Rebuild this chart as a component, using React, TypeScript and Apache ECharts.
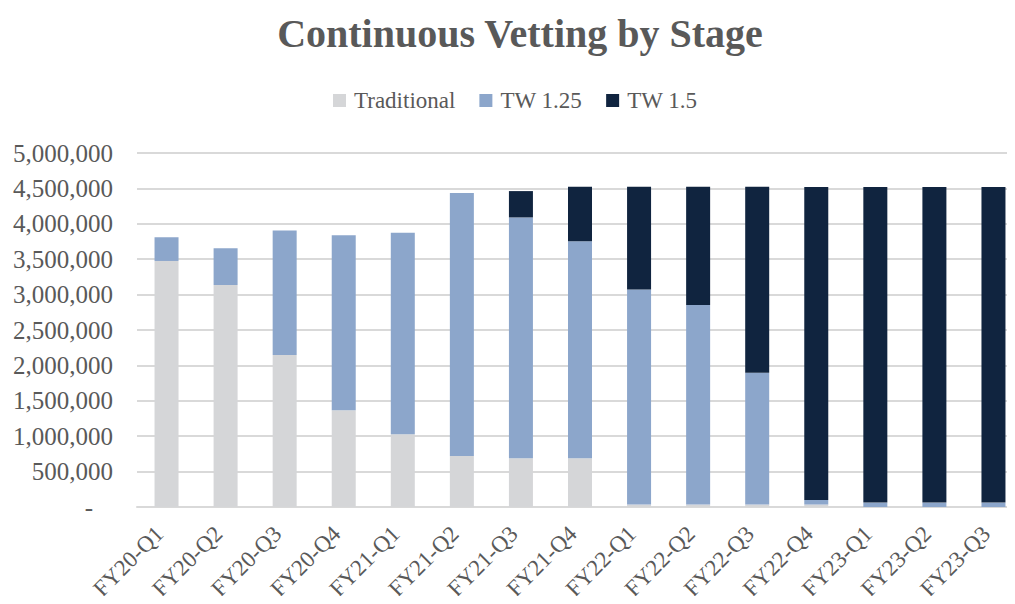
import React, { useEffect, useRef } from "react";
import * as echarts from "echarts";

const categories = [
  "FY20-Q1", "FY20-Q2", "FY20-Q3", "FY20-Q4",
  "FY21-Q1", "FY21-Q2", "FY21-Q3", "FY21-Q4",
  "FY22-Q1", "FY22-Q2", "FY22-Q3", "FY22-Q4",
  "FY23-Q1", "FY23-Q2", "FY23-Q3",
];
const traditional = [3475000, 3137000, 2146000, 1368000, 1028000, 722000, 689000, 689000, 35000, 35000, 35000, 35000, 0, 0, 0];
const tw125 = [335000, 519000, 1760000, 2472000, 2845000, 3712000, 3401000, 3066000, 3036000, 2819000, 1861000, 65000, 62000, 62000, 62000];
const tw15 = [0, 0, 0, 0, 0, 0, 372000, 769000, 1453000, 1670000, 2628000, 4420000, 4458000, 4458000, 4458000];

const FONT = "'Liberation Serif', 'DejaVu Serif', serif";
const TEXT = "#595959";

export default function App() {
  const ref = useRef<HTMLDivElement>(null);
  useEffect(() => {
    const chart = echarts.init(ref.current!, null, { renderer: "svg" });
    const mk = (name: string, data: number[], color: string) => ({
      name,
      type: "bar",
      stack: "total",
      data,
      barWidth: 24,
      itemStyle: { color },
    });
    chart.setOption({
      animation: false,
      title: {
        text: "Continuous Vetting by Stage",
        left: 515,
        textAlign: "center",
        top: 8,
        textStyle: { fontFamily: FONT, fontSize: 40, fontWeight: "bold", color: TEXT },
      },
      legend: {
        top: 84,
        left: 328,
        itemWidth: 13,
        itemHeight: 13,
        itemGap: 24,
        icon: "rect",
        textStyle: { fontFamily: FONT, fontSize: 23, color: TEXT, padding: [0, 0, 0, 3] },
        data: ["Traditional", "TW 1.25", "TW 1.5"],
      },
      grid: { left: 137, top: 153, bottom: 97, right: -8, outerBoundsMode: "none", containLabel: false },
      xAxis: {
        type: "category",
        data: categories,
        axisTick: { show: false },
        axisLine: { lineStyle: { color: "#D9D9D9", width: 2 } },
        axisLabel: {
          rotate: 45,
          interval: 0,
          margin: 16,
          padding: [0, 10, 0, 0],
          fontFamily: FONT,
          fontSize: 23,
          color: TEXT,
        },
      },
      yAxis: {
        type: "value",
        min: 0,
        max: 5000000,
        interval: 500000,
        axisLine: { show: false },
        axisTick: { show: false },
        splitLine: { lineStyle: { color: "#D9D9D9", width: 2 } },
        axisLabel: {
          margin: 24,
          fontFamily: FONT,
          fontSize: 25,
          color: TEXT,
          formatter: (v: number) => (v === 0 ? "{d|-}" : v.toLocaleString("en-US")),
          rich: { d: { padding: [0, 20, 0, 0], fontFamily: FONT, fontSize: 25, color: TEXT } },
        },
      },
      series: [
        mk("Traditional", traditional, "#D5D6D8"),
        mk("TW 1.25", tw125, "#8CA6CB"),
        mk("TW 1.5", tw15, "#10243F"),
      ],
    });
    return () => chart.dispose();
  }, []);
  return <div ref={ref} style={{ width: 1015, height: 604, margin: -8 }} />;
}
